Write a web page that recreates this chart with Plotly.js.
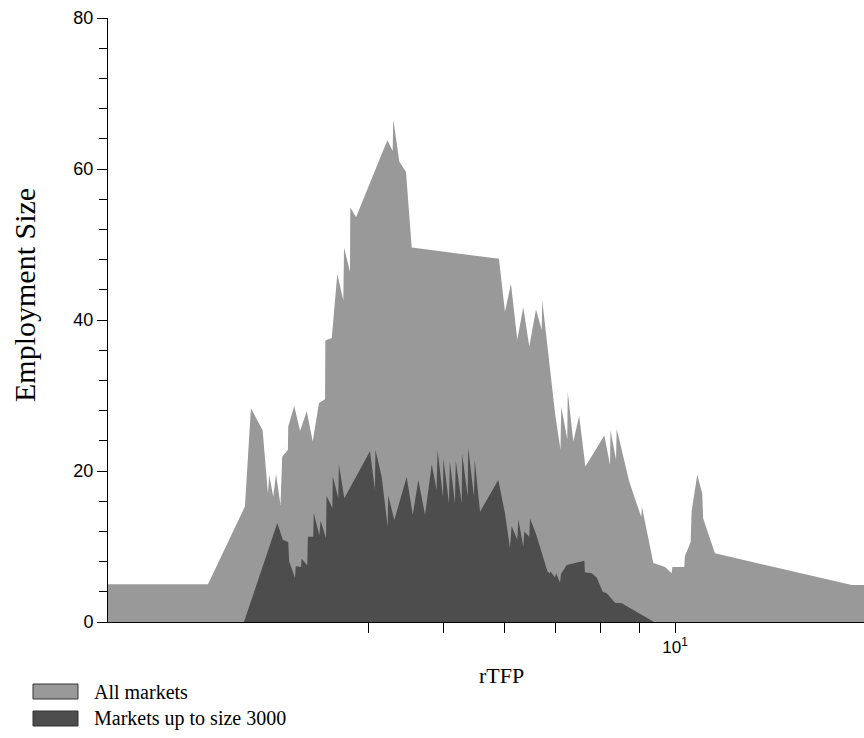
<!DOCTYPE html>
<html>
<head>
<meta charset="utf-8">
<script src="https://cdn.plot.ly/plotly-3.0.1.min.js"></script>
<style>html,body{margin:0;padding:0;background:#fff;}#chart{width:864px;height:738px;}</style>
</head>
<body>
<div id="chart"></div>
<script>
// All markets (light area)
const allX = [1.80, 2.470, 2.759, 2.809, 2.909, 2.956, 2.967, 3.003, 3.028, 3.069, 3.085, 3.138, 3.141, 3.198, 3.254, 3.320, 3.380, 3.444, 3.507, 3.510, 3.578, 3.638, 3.704, 3.712, 3.779, 3.782, 3.848, 4.226, 4.294, 4.302, 4.380, 4.469, 4.546, 5.903, 6.010, 6.119, 6.236, 6.349, 6.464, 6.595, 6.709, 6.720, 6.983, 7.097, 7.113, 7.243, 7.253, 7.375, 7.506, 7.646, 8.093, 8.232, 8.243, 8.381, 8.398, 8.714, 8.872, 9.040, 9.055, 9.372, 9.705, 9.901, 9.920, 10.28, 10.30, 10.48, 10.51, 10.69, 10.85, 10.88, 11.27, 16.98, 18.5];
const allY = [5.0, 5.0, 15.3, 28.3, 25.4, 17.0, 19.5, 16.6, 19.6, 15.5, 21.9, 22.8, 25.9, 28.6, 25.3, 27.9, 23.9, 29.0, 29.5, 37.3, 37.6, 46.1, 42.6, 49.6, 46.4, 54.9, 53.6, 63.8, 62.4, 66.6, 61.0, 59.6, 49.6, 48.1, 41.1, 44.8, 37.4, 41.7, 36.5, 41.4, 38.7, 42.6, 27.6, 22.8, 28.5, 24.2, 30.5, 23.9, 27.3, 20.6, 24.7, 20.8, 25.4, 21.5, 25.6, 18.7, 16.3, 13.9, 15.3, 7.8, 7.3, 6.45, 7.3, 7.3, 8.7, 10.6, 14.7, 19.5, 17.0, 13.7, 9.1, 4.9, 4.9];

// Markets up to size 3000 (dark area)
const smallX = [2.751, 3.040, 3.090, 3.141, 3.150, 3.206, 3.212, 3.264, 3.269, 3.325, 3.331, 3.385, 3.391, 3.447, 3.461, 3.517, 3.523, 3.585, 3.589, 3.649, 3.655, 3.715, 4.012, 4.072, 4.078, 4.155, 4.231, 4.237, 4.315, 4.478, 4.560, 4.637, 4.731, 4.827, 4.897, 4.912, 4.993, 4.998, 5.083, 5.095, 5.175, 5.187, 5.280, 5.287, 5.376, 5.383, 5.478, 5.490, 5.578, 5.891, 6.010, 6.101, 6.131, 6.236, 6.255, 6.349, 6.368, 6.464, 6.478, 6.595, 6.823, 6.864, 6.893, 6.983, 7.004, 7.088, 7.108, 7.231, 7.623, 7.635, 7.793, 7.910, 8.054, 8.151, 8.356, 8.525, 9.391];
const smallY = [0, 13.1, 10.9, 10.6, 8.0, 5.8, 7.4, 7.3, 8.4, 7.5, 11.3, 11.3, 14.4, 11.5, 13.4, 11.1, 16.7, 15.1, 19.3, 16.4, 20.9, 16.4, 22.6, 17.5, 22.8, 19.2, 12.6, 16.8, 13.5, 19.2, 14.2, 18.8, 14.2, 20.9, 17.5, 22.8, 16.5, 21.7, 15.7, 21.3, 15.7, 21.4, 15.7, 22.3, 16.6, 23.1, 16.6, 21.5, 14.6, 18.8, 14.4, 9.8, 12.7, 10.9, 13.6, 10.0, 12.0, 11.3, 13.7, 11.7, 6.75, 6.45, 6.66, 5.9, 6.45, 5.2, 6.36, 7.55, 8.1, 6.6, 6.45, 5.9, 4.0, 3.8, 2.56, 2.5, 0];

const seriesNames = ['All markets', 'Markets up to size 3000'];
const seriesColors = ['#999999', '#4d4d4d'];
const xMajorTickVals = [10];
const xMajorTickText = ['10<sup>1</sup>'];
const xMinorTickVals = [4, 5, 6, 7, 8, 9];
const xTitle = 'rTFP';
const yTitle = 'Employment Size';

const traces = [
  {x: allX, y: allY, name: seriesNames[0], type: 'scatter', mode: 'lines', fill: 'tozeroy',
   fillcolor: seriesColors[0], line: {width: 0, color: seriesColors[0]}, showlegend: false, hoverinfo: 'x+y'},
  {x: smallX, y: smallY, name: seriesNames[1], type: 'scatter', mode: 'lines', fill: 'tozeroy',
   fillcolor: seriesColors[1], line: {width: 0, color: seriesColors[1]}, showlegend: false, hoverinfo: 'x+y'}
];

const serif = 'Liberation Serif, Times New Roman, serif';
const sans = 'Liberation Sans, Arial, sans-serif';

// pixel -> paper helpers (plot area: x 108..864, y 18..622)
const px = v => (v - 108) / 756;
const py = v => (622 - v) / 604;

const shapes = [];
const annotations = [];
seriesNames.forEach((nm, i) => {
  const top = 684 + i * 27;
  shapes.push({type: 'rect', xref: 'paper', yref: 'paper',
    x0: px(33), x1: px(78), y0: py(top), y1: py(top + 15),
    fillcolor: seriesColors[i], line: {color: '#333333', width: 1}});
  annotations.push({xref: 'paper', yref: 'paper', x: px(92), y: py(top + 7.5),
    xanchor: 'left', yanchor: 'middle', text: nm, showarrow: false,
    font: {family: serif, size: 20, color: '#000'}});
});
annotations.push({xref: 'paper', yref: 'paper', x: px(501), y: py(676),
  xanchor: 'center', yanchor: 'middle', text: xTitle, showarrow: false,
  font: {family: serif, size: 22, color: '#000'}});
annotations.push({xref: 'paper', yref: 'paper', x: px(24), y: py(295), textangle: -90,
  xanchor: 'center', yanchor: 'middle', text: yTitle, showarrow: false,
  font: {family: serif, size: 30, color: '#000'}});

const layout = {
  width: 864, height: 738,
  margin: {l: 108, r: 0, t: 18, b: 116, pad: 0},
  paper_bgcolor: '#fff', plot_bgcolor: '#fff',
  showlegend: false,
  xaxis: {
    type: 'log', range: [Math.log10(1.831), Math.log10(17.61)],
    tickmode: 'array', tickvals: xMajorTickVals, ticktext: xMajorTickText,
    ticks: 'outside', ticklen: 10, tickcolor: '#000', tickwidth: 1,
    minor: {tickmode: 'array', tickvals: xMinorTickVals, ticks: 'outside', ticklen: 10, tickcolor: '#000', showgrid: false},
    showline: true, linecolor: '#000', linewidth: 1, showgrid: false, zeroline: false,
    tickfont: {family: sans, size: 17, color: '#000'}
  },
  yaxis: {
    range: [0, 80], tickmode: 'linear', tick0: 0, dtick: 20,
    ticks: 'outside', ticklen: 10, tickcolor: '#000', tickwidth: 1,
    minor: {dtick: 4, ticks: 'outside', ticklen: 8, tickcolor: '#000', showgrid: false},
    showline: true, linecolor: '#000', linewidth: 1, showgrid: false, zeroline: false,
    tickfont: {family: sans, size: 18, color: '#000'}
  },
  shapes: shapes,
  annotations: annotations
};

Plotly.newPlot('chart', traces, layout, {displayModeBar: false, staticPlot: true});
</script>
</body>
</html>
